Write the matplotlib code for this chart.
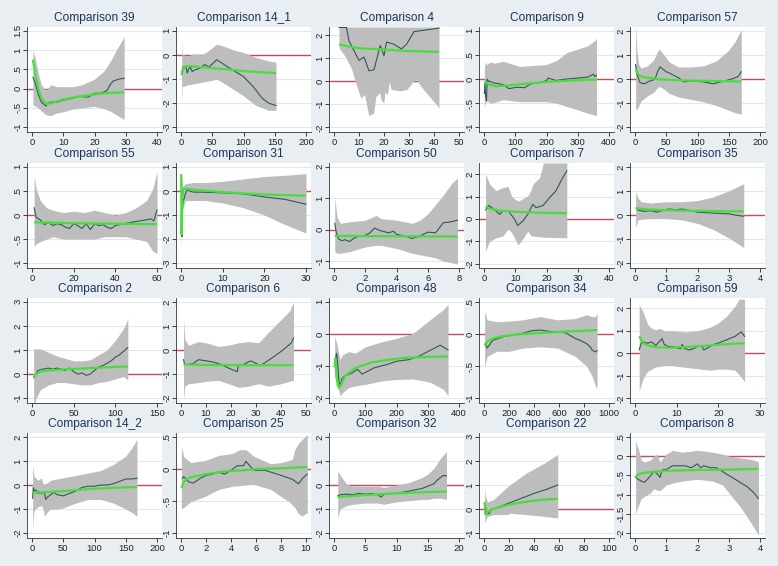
import matplotlib.pyplot as plt
import numpy as np

# ---------------- data ----------------
titles = ["Comparison 39", "Comparison 14_1", "Comparison 4", "Comparison 9", "Comparison 57",
          "Comparison 55", "Comparison 31", "Comparison 50", "Comparison 7", "Comparison 35",
          "Comparison 2", "Comparison 6", "Comparison 48", "Comparison 34", "Comparison 59",
          "Comparison 14_2", "Comparison 25", "Comparison 32", "Comparison 22", "Comparison 8"]

# Comparison 39
c39_x = [0.3, 1, 2, 3, 4.5, 5, 6, 8, 10, 13, 15, 18, 20, 22, 24, 25, 26, 28, 29.5]
c39_y = [0.3, 0.15, -0.15, -0.35, -0.45, -0.38, -0.35, -0.35, -0.3, -0.25, -0.2, -0.22, -0.12, -0.12, -0.05, 0.1, 0.2, 0.25, 0.27]
c39_bx = [0.3, 1, 2, 3, 4.5, 6, 8, 10, 13, 16, 20, 23, 25, 27, 29.5]
c39_hi = [1.0, 0.8, 0.4, 0.1, -0.05, 0.1, 0.05, 0.05, 0.05, 0.1, 0.25, 0.45, 0.7, 1.0, 1.35]
c39_lo = [-0.42, -0.45, -0.5, -0.58, -0.68, -0.7, -0.63, -0.6, -0.53, -0.5, -0.46, -0.52, -0.58, -0.68, -0.8]
c39_sx = [0.3, 1, 2, 3, 4.5, 6, 8, 10, 14, 18, 23, 29.5]
c39_sy = [0.75, 0.4, 0.0, -0.25, -0.4, -0.38, -0.33, -0.28, -0.22, -0.17, -0.12, -0.09]

# Comparison 14_1
c14a_x = [1, 3, 5, 8, 10, 13, 15, 18, 20, 25, 30, 38, 45, 57, 75, 100, 115, 130, 140, 152]
c14a_y = [-0.8, -0.5, -0.55, -0.5, -0.75, -0.55, -0.5, -0.7, -0.65, -0.6, -0.55, -0.4, -0.5, -0.2, -0.5, -0.9, -1.3, -1.8, -2.0, -2.1]
c14a_bx = [1, 2, 5, 10, 20, 30, 40, 50, 57, 70, 85, 100, 120, 140, 152]
c14a_hi = [0.55, 0.0, 0.0, -0.05, 0.05, 0.0, 0.1, 0.3, 0.45, 0.35, 0.2, 0.1, -0.1, -0.25, -0.3]
c14a_lo = [-2.0, -1.3, -1.3, -1.25, -1.2, -1.15, -1.1, -1.05, -1.0, -1.2, -1.45, -1.7, -2.1, -2.3, -2.3]
c14a_sx = [1, 3, 5, 10, 15, 30, 50, 75, 100, 130, 152]
c14a_sy = [-0.85, -0.6, -0.5, -0.47, -0.47, -0.5, -0.55, -0.6, -0.67, -0.72, -0.75]

# Comparison 4
c4_x = [2, 5, 6, 10, 12, 14, 16, 18.5, 20, 21, 24, 27, 29, 32, 42]
c4_y = [2.33, 2.33, 1.75, 0.9, 1.05, 0.45, 0.5, 1.55, 1.1, 1.7, 1.6, 1.4, 1.6, 2.15, 2.3]
c4_bx = [2, 4.3, 7, 8.3, 10.7, 12.2, 13.9, 15.8, 16.8, 18.3, 18.8, 19.9, 20.4, 21.4, 22.1, 22.8, 26.7, 29.3, 31.7, 32.9, 34.6, 42]
c4_hi = [2.35, 2.35, 2.35, 2.35, 2.35, 2.35, 2.35, 2.35, 2.35, 2.35, 2.35, 2.35, 2.35, 2.35, 2.35, 2.35, 2.35, 2.35, 2.35, 2.35, 2.35, 2.35]
c4_lo = [1.45, 1.1, 0.55, 0.05, -0.73, -0.58, -1.48, -1.4, -0.65, -0.5, -0.8, -0.95, -0.47, -0.58, 0.0, -0.35, -0.42, -0.35, 0.0, 0.1, -0.2, -1.15]
c4_sx = [2, 6, 10, 20, 30, 42]
c4_sy = [1.6, 1.5, 1.43, 1.37, 1.31, 1.27]

# Comparison 9
c9_x = [1, 3, 5, 8, 10, 15, 20, 30, 50, 61, 80, 105, 130, 150, 175, 200, 205, 230, 265, 300, 332, 350, 355, 360]
c9_y = [-0.3, -0.1, -0.35, -0.45, 0.0, -0.05, -0.05, -0.08, -0.1, -0.12, -0.2, -0.17, -0.18, -0.1, -0.08, -0.03, 0.02, -0.03, 0.0, 0.02, 0.04, 0.1, 0.05, 0.08]
c9_bx = [1, 2, 4, 10, 20, 35, 61, 115, 198, 231, 265, 300, 332, 355, 360]
c9_hi = [0.2, 0.25, 0.35, 0.3, 0.35, 0.33, 0.37, 0.26, 0.3, 0.38, 0.55, 0.62, 0.69, 0.8, 0.85]
c9_lo = [-0.6, -0.55, -0.5, -0.45, -0.5, -0.48, -0.43, -0.47, -0.47, -0.5, -0.57, -0.64, -0.71, -0.75, -0.76]
c9_sx = [1, 5, 20, 40, 80, 130, 200, 280, 360]
c9_sy = [-0.1, -0.06, -0.12, -0.15, -0.13, -0.1, -0.06, -0.03, -0.01]

# Comparison 57
c57_x = [1, 3, 8, 15, 22, 28, 32, 37, 40, 45, 50, 55, 62, 70, 78, 90, 110, 125, 140, 155, 165, 170]
c57_y = [0.6, 0.2, -0.15, -0.2, -0.1, -0.05, 0.0, 0.35, 0.5, 0.4, 0.3, 0.25, 0.15, 0.05, -0.12, -0.07, -0.12, -0.2, -0.1, 0.0, 0.1, 0.3]
c57_bx = [1, 3, 6, 10, 20, 30, 38, 45, 55, 70, 90, 110, 130, 150, 160, 170]
c57_hi = [2.3, 1.2, 0.6, 0.45, 0.55, 0.8, 1.25, 1.05, 0.7, 0.5, 0.5, 0.55, 0.75, 1.2, 1.55, 2.05]
c57_lo = [-1.2, -1.3, -1.1, -0.9, -0.7, -0.55, -0.3, -0.4, -0.6, -0.75, -0.85, -0.95, -1.1, -1.3, -1.4, -1.45]
c57_sx = [1, 5, 10, 20, 35, 50, 80, 120, 170]
c57_sy = [0.4, 0.2, 0.1, 0.05, 0.0, -0.03, -0.06, -0.08, -0.1]

# Comparison 55
c55_x = [1, 2, 4, 6, 8, 10, 12, 14, 16, 18, 20, 22, 24, 26, 28, 30, 32, 34, 36, 38, 40, 44, 48, 52, 55, 57, 58.5, 60]
c55_y = [0.15, -0.05, -0.1, -0.2, -0.15, -0.22, -0.18, -0.2, -0.25, -0.28, -0.18, -0.22, -0.28, -0.18, -0.3, -0.18, -0.22, -0.2, -0.25, -0.28, -0.22, -0.18, -0.15, -0.12, -0.1, -0.08, -0.12, 0.1]
c55_bx = [1, 2, 4, 7, 10, 15, 20, 25, 30, 35, 40, 45, 50, 55, 58, 60]
c55_hi = [0.8, 0.55, 0.3, 0.15, 0.1, 0.05, 0.08, 0.05, 0.1, 0.05, 0.0, 0.05, 0.15, 0.3, 0.55, 0.9]
c55_lo = [-0.65, -0.6, -0.55, -0.5, -0.45, -0.5, -0.5, -0.5, -0.5, -0.45, -0.45, -0.45, -0.5, -0.55, -0.75, -0.8]
c55_sx = [1, 20, 40, 60]
c55_sy = [-0.15, -0.17, -0.18, -0.19]

# Comparison 31
c31_x = [0.1, 0.2, 0.3, 0.5, 0.8, 1, 1.5, 2, 3, 5, 10, 15, 20, 25, 30]
c31_y = [-0.3, -1.9, -0.8, -0.4, -0.3, -0.15, 0.05, 0.0, -0.05, -0.05, -0.08, -0.12, -0.25, -0.35, -0.55]
c31_bx = [0.1, 0.4, 1, 3, 6, 10, 15, 20, 25, 30]
c31_hi = [0.7, 0.2, 0.3, 0.35, 0.35, 0.4, 0.5, 0.6, 0.65, 0.72]
c31_lo = [-2.35, -0.8, -0.4, -0.4, -0.4, -0.5, -0.7, -1.0, -1.4, -1.75]
c31_sx = [0.05, 0.15, 0.3, 0.5, 1, 3, 10, 20, 30]
c31_sy = [0.7, -1.8, -0.3, 0.05, 0.1, 0.05, -0.05, -0.15, -0.2]

# Comparison 50
c50_x = [0.05, 0.15, 0.3, 0.5, 0.7, 1, 1.2, 1.5, 1.8, 2, 2.3, 2.6, 2.8, 3.1, 3.5, 3.8, 4, 4.5, 5, 5.5, 6, 6.5, 7, 7.5, 7.9]
c50_y = [0.2, -0.1, -0.3, -0.35, -0.32, -0.38, -0.3, -0.22, -0.2, -0.18, -0.1, 0.05, 0.0, -0.05, -0.1, -0.05, -0.15, -0.2, -0.28, -0.2, -0.08, -0.1, 0.22, 0.25, 0.3]
c50_bx = [0.05, 0.2, 0.4, 1, 2, 2.7, 3, 4, 5, 5.5, 6, 6.5, 7, 7.5, 7.9]
c50_hi = [1.0, 0.4, 0.2, 0.25, 0.3, 0.45, 0.35, 0.3, 0.2, 0.3, 0.5, 0.8, 1.1, 1.45, 1.65]
c50_lo = [-0.7, -0.75, -0.75, -0.7, -0.55, -0.5, -0.5, -0.6, -0.75, -0.8, -0.85, -0.9, -1.0, -1.05, -1.1]
c50_sx = [0.05, 4, 7.9]
c50_sy = [-0.2, -0.21, -0.22]

# Comparison 7
c7_x = [0.5, 1.5, 3, 5, 6, 7.7, 9.7, 10.8, 12.4, 14, 15.6, 16.7, 18.9, 21, 23, 25, 26.5]
c7_y = [0.4, 0.6, 0.45, 0.2, 0.35, 0.36, 0.0, -0.3, -0.1, 0.2, 0.65, 0.5, 0.6, 0.95, 1.25, 1.8, 2.15]
c7_bx = [0.5, 1.8, 3.9, 6, 7.7, 8.8, 9.7, 10.8, 11, 12.4, 14, 15.1, 15.6, 17.8, 19, 26.5]
c7_hi = [2.0, 1.55, 1.26, 1.4, 1.45, 1.03, 0.9, 0.8, 0.8, 0.9, 1.03, 1.3, 1.55, 1.85, 2.5, 2.5]
c7_lo = [-1.45, -1.0, -0.85, -0.77, -0.46, -0.6, -0.85, -1.15, -1.15, -0.9, -0.55, -0.77, -0.77, -0.8, -0.82, -0.85]
c7_sx = [0.5, 2, 5, 10, 15, 20, 26.5]
c7_sy = [0.55, 0.45, 0.37, 0.32, 0.29, 0.27, 0.25]

# Comparison 35
c35_x = [0.05, 0.1, 0.3, 0.5, 0.7, 0.9, 1.1, 1.3, 1.5, 1.7, 2.0, 2.5, 3.0, 3.2, 3.48]
c35_y = [0.3, 0.2, 0.15, 0.18, 0.12, 0.2, 0.25, 0.22, 0.25, 0.2, 0.12, 0.08, 0.05, 0.0, -0.05]
c35_bx = [0.02, 0.1, 0.2, 0.5, 1.0, 1.5, 2.0, 2.5, 3.0, 3.48]
c35_hi = [0.95, 0.7, 0.55, 0.5, 0.55, 0.55, 0.6, 0.75, 1.0, 1.3]
c35_lo = [-0.5, -0.2, -0.18, -0.15, -0.15, -0.2, -0.35, -0.6, -0.95, -1.35]
c35_sx = [0.02, 0.5, 1, 2, 3.48]
c35_sy = [0.28, 0.22, 0.2, 0.17, 0.15]

# Comparison 2
c2_x = [2, 5, 7, 12, 20, 25, 30, 35, 40, 45, 50, 55, 60, 65, 70, 75, 80, 85, 90, 95, 100, 105, 110, 115]
c2_y = [-0.15, 0.0, 0.15, 0.2, 0.25, 0.2, 0.25, 0.2, 0.15, 0.25, 0.1, 0.0, 0.05, -0.05, 0.0, 0.15, 0.3, 0.35, 0.45, 0.55, 0.7, 0.8, 0.95, 1.1]
c2_bx = [2, 5, 10, 20, 30, 40, 50, 60, 70, 80, 90, 100, 110, 115]
c2_hi = [1.05, 1.05, 1.05, 0.9, 0.75, 0.65, 0.55, 0.55, 0.6, 0.8, 1.0, 1.4, 1.9, 2.3]
c2_lo = [-1.35, -1.0, -0.65, -0.45, -0.35, -0.35, -0.4, -0.45, -0.45, -0.35, -0.3, -0.2, -0.1, -0.25]
c2_sx = [2, 5, 10, 20, 40, 60, 80, 115]
c2_sy = [-0.15, 0.0, 0.1, 0.15, 0.2, 0.23, 0.27, 0.32]

# Comparison 6
c6_x = [1, 1.5, 3, 5, 7, 10, 13, 16, 19, 22.5, 23, 25, 27.8, 29, 30.8, 31.7, 34, 36.8, 40.8, 44.2, 45]
c6_y = [-0.4, -0.6, -0.6, -0.55, -0.4, -0.45, -0.5, -0.6, -0.75, -0.9, -0.6, -0.6, -0.45, -0.5, -0.6, -0.65, -0.5, -0.3, 0.0, 0.3, 0.5]
c6_bx = [1, 1.5, 3, 7, 10, 15, 19, 23, 27, 31, 35, 40, 43.5, 45]
c6_hi = [1.3, 0.45, 0.2, 0.35, 0.3, 0.15, 0.2, 0.3, 0.35, 0.3, 0.74, 1.26, 1.63, 2.0]
c6_lo = [-2.07, -1.5, -1.4, -1.35, -1.3, -1.26, -1.4, -1.55, -1.5, -1.4, -1.5, -1.4, -1.3, -1.26]
c6_sx = [1, 10, 25, 45]
c6_sy = [-0.6, -0.62, -0.63, -0.63]

# Comparison 48
c48_x = [2, 5, 8, 10, 13, 16, 20, 25, 35, 50, 60, 75, 90, 100, 130, 170, 200, 240, 270, 300, 340, 365]
c48_y = [-1.0, -0.8, -0.6, -0.7, -1.1, -1.5, -1.6, -1.4, -1.3, -1.25, -1.2, -1.1, -1.25, -1.2, -1.05, -0.95, -0.85, -0.8, -0.7, -0.55, -0.35, -0.5]
c48_bx = [2, 9, 19.5, 27, 47, 68, 100, 155, 198, 253, 307, 350, 365]
c48_hi = [-0.08, -0.3, -0.8, -0.65, -0.55, -0.6, -0.4, -0.24, -0.14, 0.02, 0.44, 0.76, 0.92]
c48_lo = [-1.35, -1.5, -1.93, -1.83, -1.67, -1.62, -1.57, -1.46, -1.42, -1.4, -1.5, -1.72, -1.93]
c48_sx = [2, 4, 8, 12, 16, 22, 36, 68, 123, 177, 231, 286, 365]
c48_sy = [-1.04, -0.77, -1.3, -1.6, -1.68, -1.6, -1.3, -1.06, -0.88, -0.8, -0.74, -0.72, -0.7]

# Comparison 34
c34_x = [10, 25, 70, 160, 310, 380, 450, 520, 590, 650, 730, 770, 820, 850, 865, 890, 905]
c34_y = [-0.15, -0.22, -0.1, -0.04, 0.01, 0.05, 0.06, 0.04, 0.03, 0.02, -0.07, -0.1, -0.15, -0.2, -0.25, -0.28, -0.26]
c34_bx = [5, 25, 100, 200, 310, 450, 590, 730, 820, 865, 890, 900, 905]
c34_hi = [0.35, 0.22, 0.19, 0.2, 0.22, 0.27, 0.22, 0.24, 0.3, 0.27, 0.27, 0.3, 0.33]
c34_lo = [-0.52, -0.35, -0.27, -0.27, -0.22, -0.2, -0.22, -0.35, -0.5, -0.66, -0.8, -0.85, -0.8]
c34_sx = [5, 25, 70, 160, 310, 590, 905]
c34_sy = [-0.18, -0.12, -0.07, -0.03, 0.0, 0.03, 0.06]

# Comparison 59
c59_x = [1, 1.5, 2, 3, 4, 5, 6, 6.5, 7, 8, 9, 10, 11, 11.3, 12, 13, 14, 15, 16, 16.5, 17, 18, 19, 20, 22, 24, 25.5, 26.3]
c59_y = [0.15, 0.45, 0.5, 0.45, 0.5, 0.35, 0.55, 0.65, 0.4, 0.3, 0.3, 0.25, 0.2, 0.4, 0.2, 0.15, 0.2, 0.3, 0.35, 0.15, 0.2, 0.3, 0.4, 0.45, 0.6, 0.75, 0.95, 0.75]
c59_bx = [1, 2, 3, 4, 5, 6, 7, 9, 12, 15, 18, 20, 22, 24, 25, 26.3]
c59_hi = [2.15, 1.8, 1.3, 1.1, 1.05, 1.1, 1.0, 1.0, 0.95, 1.0, 1.15, 1.35, 1.65, 2.1, 2.4, 2.4]
c59_lo = [-1.65, -1.1, -0.8, -0.7, -0.6, -0.58, -0.55, -0.55, -0.62, -0.68, -0.75, -0.7, -0.7, -0.75, -0.95, -1.25]
c59_sx = [1, 2, 3, 5, 8, 12, 16, 20, 26.3]
c59_sy = [0.75, 0.45, 0.35, 0.27, 0.25, 0.28, 0.32, 0.38, 0.45]

# Comparison 14_2
c14b_x = [1, 2, 4, 6, 8, 10, 12, 14, 16, 18, 20, 22, 25, 30, 35, 40, 50, 60, 70, 80, 90, 100, 110, 120, 130, 140, 150, 160, 168]
c14b_y = [-0.55, -0.1, -0.3, -0.2, -0.35, -0.25, -0.35, -0.3, -0.35, -0.3, -0.35, -0.6, -0.5, -0.4, -0.3, -0.4, -0.45, -0.35, -0.25, -0.1, -0.05, -0.05, 0.0, 0.0, 0.05, 0.15, 0.25, 0.25, 0.28]
c14b_bx = [1, 3, 5, 10, 15, 18, 20, 25, 30, 40, 50, 70, 90, 110, 130, 150, 160, 168]
c14b_hi = [0.8, 0.4, 0.3, 0.2, 0.3, 0.0, 0.05, 0.1, 0.2, 0.25, 0.3, 0.4, 0.5, 0.6, 0.85, 1.2, 1.55, 1.9]
c14b_lo = [-1.8, -1.1, -1.0, -0.9, -0.85, -1.0, -1.3, -1.1, -1.0, -1.0, -0.95, -0.75, -0.6, -0.6, -0.75, -1.0, -1.15, -1.3]
c14b_sx = [1, 20, 50, 100, 168]
c14b_sy = [-0.3, -0.3, -0.25, -0.15, -0.08]

# Comparison 25
c25_x = [0.1, 0.2, 0.4, 0.6, 1, 1.5, 2, 2.5, 3, 3.5, 4, 4.5, 5, 5.2, 5.5, 5.85, 6.7, 7.2, 8.0, 8.9, 9.4, 9.7, 10.1]
c25_y = [-0.15, -0.12, -0.15, -0.2, -0.22, -0.15, -0.1, -0.08, -0.05, -0.08, -0.02, 0.05, 0.05, 0.12, 0.05, -0.02, -0.02, -0.05, -0.1, -0.16, -0.23, -0.15, -0.08]
c25_bx = [0.03, 0.22, 0.78, 1.9, 3.0, 4.1, 4.7, 5.2, 5.8, 7.2, 8.0, 8.6, 8.9, 9.1, 9.4, 9.7, 10.1]
c25_hi = [0.35, 0.19, 0.1, 0.13, 0.21, 0.24, 0.3, 0.3, 0.2, 0.08, 0.1, 0.13, 0.15, 0.3, 0.4, 0.46, 0.54]
c25_lo = [-0.62, -0.6, -0.51, -0.43, -0.32, -0.27, -0.26, -0.25, -0.24, -0.32, -0.43, -0.5, -0.56, -0.6, -0.7, -0.73, -0.68]
c25_sx = [0.05, 0.2, 0.5, 1, 2, 3, 4, 5, 6, 8, 10.1]
c25_sy = [-0.3, -0.2, -0.15, -0.12, -0.08, -0.05, -0.03, -0.02, 0.0, 0.01, 0.03]

# Comparison 32
c32_x = [0.6, 1, 2, 3, 4, 5, 6, 7, 7.5, 8, 9, 10, 11, 12, 13, 14, 15, 16, 16.5, 17, 17.5, 18]
c32_y = [-0.45, -0.4, -0.38, -0.4, -0.35, -0.38, -0.35, -0.4, -0.5, -0.4, -0.35, -0.35, -0.3, -0.25, -0.2, -0.15, -0.05, 0.05, 0.2, 0.3, 0.4, 0.38]
c32_bx = [0.6, 1, 2, 3, 5, 7, 8, 10, 12, 14, 15, 16, 17, 18]
c32_hi = [0.6, 0.4, 0.05, -0.05, -0.05, -0.05, -0.1, 0.0, 0.1, 0.3, 0.45, 0.7, 1.1, 1.4]
c32_lo = [-1.35, -1.0, -0.85, -0.8, -0.75, -0.75, -0.8, -0.7, -0.65, -0.6, -0.6, -0.55, -0.55, -0.6]
c32_sx = [0.6, 3, 6, 10, 14, 18]
c32_sy = [-0.5, -0.45, -0.4, -0.35, -0.3, -0.27]

# Comparison 22
c22_x = [1, 2, 3, 4, 6, 10, 15, 20, 30, 40, 50, 59]
c22_y = [0.2, -0.2, -0.1, -0.2, 0.0, 0.05, 0.15, 0.25, 0.45, 0.65, 0.82, 1.0]
c22_bx = [0.5, 1, 2.7, 7.5, 19, 20.5, 34, 48, 59]
c22_hi = [0.9, 0.6, 0.3, 0.39, 0.94, 1.0, 1.5, 1.9, 2.27]
c22_lo = [-0.58, -0.5, -0.3, -0.23, -0.23, -0.17, -0.23, -0.3, -0.37]
c22_sx = [0.5, 1, 2, 4, 6, 10, 15, 20, 30, 40, 50, 59]
c22_sy = [0.3, -0.2, -0.15, -0.1, -0.02, 0.05, 0.12, 0.18, 0.28, 0.35, 0.4, 0.43]

# Comparison 8
c8_x = [0.02, 0.1, 0.2, 0.3, 0.4, 0.5, 0.6, 0.7, 0.8, 0.85, 0.9, 1.0, 1.1, 1.2, 1.4, 1.6, 1.8, 2.0, 2.1, 2.2, 2.4, 2.6, 2.8, 3.0, 3.2, 3.4, 3.6, 3.8, 3.85, 3.9, 3.95]
c8_y = [-0.55, -0.6, -0.65, -0.68, -0.6, -0.5, -0.4, -0.45, -0.55, -0.4, -0.35, -0.35, -0.3, -0.25, -0.25, -0.25, -0.3, -0.2, -0.3, -0.25, -0.3, -0.3, -0.4, -0.5, -0.6, -0.7, -0.8, -0.95, -1.0, -1.05, -1.1]
c8_bx = [0.02, 0.1, 0.2, 0.3, 0.5, 0.6, 0.7, 0.8, 1.0, 1.2, 1.5, 2.0, 2.5, 2.8, 3.0, 3.2, 3.4, 3.6, 3.8, 3.95]
c8_hi = [0.4, 0.2, -0.1, -0.15, -0.1, 0.0, 0.05, -0.15, 0.05, 0.15, 0.1, 0.15, 0.1, 0.05, 0.0, -0.02, -0.05, -0.07, -0.1, -0.15]
c8_lo = [-1.5, -1.3, -1.1, -1.05, -0.95, -0.85, -0.88, -0.9, -0.75, -0.7, -0.65, -0.6, -0.65, -0.75, -0.95, -1.15, -1.35, -1.6, -1.85, -2.05]
c8_sx = [0.02, 0.1, 0.2, 0.4, 0.7, 1.0, 2.0, 3.0, 3.95]
c8_sy = [-0.55, -0.48, -0.45, -0.42, -0.4, -0.38, -0.36, -0.35, -0.33]

# axis ticks per panel
x_ticks = [[0, 10, 20, 30, 40], [0, 50, 100, 150, 200], [0, 10, 20, 30, 40, 50], [0, 100, 200, 300, 400],
           [0, 50, 100, 150, 200], [0, 20, 40, 60], [0, 10, 20, 30], [0, 2, 4, 6, 8],
           [0, 10, 20, 30, 40], [0, 1, 2, 3, 4], [0, 50, 100, 150], [0, 10, 20, 30, 40, 50],
           [0, 100, 200, 300, 400], [0, 200, 400, 600, 800, 1000], [0, 10, 20, 30], [0, 50, 100, 150, 200],
           [0, 2, 4, 6, 8, 10], [0, 5, 10, 15, 20], [0, 20, 40, 60, 80, 100], [0, 1, 2, 3, 4]]
y_ticks = [[-1, -0.5, 0, 0.5, 1, 1.5], [-3, -2, -1, 0, 1], [-2, -1, 0, 1, 2], [-1, -0.5, 0, 0.5, 1],
           [-2, -1, 0, 1, 2], [-1, -0.5, 0, 0.5, 1], [-3, -2, -1, 0, 1], [-1, 0, 1, 2],
           [-2, -1, 0, 1, 2], [-2, -1, 0, 1, 2], [-1, 0, 1, 2, 3], [-2, -1, 0, 1, 2],
           [-2, -1, 0, 1], [-1, -0.5, 0, 0.5], [-2, -1, 0, 1, 2], [-2, -1, 0, 1, 2],
           [-1, -0.5, 0, 0.5], [-2, -1, 0, 1, 2], [-1, 0, 1, 2, 3], [-2, -1.5, -1, -0.5, 0, 0.5]]
# panels whose data push the plot region past the top label
y_top = {2: 2.35, 8: 2.5, 14: 2.45}
y_bottom = {7: -1.22}

names = ["c39", "c14a", "c4", "c9", "c57", "c55", "c31", "c50", "c7", "c35",
         "c2", "c6", "c48", "c34", "c59", "c14b", "c25", "c32", "c22", "c8"]
panels = [[globals()[n + s] for s in ("_x", "_y", "_bx", "_lo", "_hi", "_sx", "_sy")] for n in names]

# ---------------- style ----------------
BG = "#e8eef1"
NAVY = "#1c3358"
GRAY = "#bdbdbd"
DARK = "#2c5b55"
LIME = "#48de3a"
RED = "#c24a64"
GRID = "#e1e8ec"
plt.rcParams['font.family'] = ['Liberation Sans', 'DejaVu Sans']


def stata_label(v):
    if float(v).is_integer():
        return str(int(v))
    s = f"{abs(v):g}".lstrip("0")
    return ("-" if v < 0 else "") + s


W, H = 778, 566
lefts = [27, 176, 329, 479, 630]
tops = [27, 163, 298, 433]
pw, ph = 135, 105

fig = plt.figure(figsize=(W / 100, H / 100), dpi=100, facecolor=BG)

for i, (lx, ly, bx, lo, hi, sx, sy) in enumerate(panels):
    r, c = divmod(i, 5)
    ax = fig.add_axes([lefts[c] / W, 1 - (tops[r] + ph) / H, pw / W, ph / H])
    ax.set_facecolor("white")

    xt, yt = x_ticks[i], y_ticks[i]
    xr, yr = xt[-1] - xt[0], yt[-1] - yt[0]
    ax.set_xlim(xt[0] - 0.04 * xr, xt[-1] + 0.04 * xr)
    ax.set_ylim(y_bottom.get(i, yt[0] - 0.05 * yr), y_top.get(i, yt[-1] + 0.04 * yr))

    for y in yt:
        ax.axhline(y, color=GRID, lw=0.8, zorder=0.5)
    ax.axhline(0, color=RED, lw=1.0, zorder=1)
    ax.fill_between(bx, lo, hi, color=GRAY, lw=0, zorder=2)
    ax.plot(lx, ly, color=DARK, lw=0.8, zorder=3)
    ax.plot(sx, sy, color=LIME, lw=1.6, zorder=4, solid_capstyle="butt")

    ax.set_xticks(xt)
    ax.set_xticklabels([stata_label(v) for v in xt])
    ax.set_yticks(yt)
    ax.set_yticklabels([stata_label(v) for v in yt], rotation=90, va="center")
    ax.tick_params(length=3, width=0.6, labelsize=6.8, colors="#222222")
    ax.tick_params(axis="x", pad=1.5)
    ax.tick_params(axis="y", pad=0.5)
    for s in ("top", "right"):
        ax.spines[s].set_visible(False)
    for s in ("left", "bottom"):
        ax.spines[s].set_linewidth(0.6)
        ax.spines[s].set_color("#333333")

    ax.set_title(titles[i], fontsize=8.6, color=NAVY, pad=4)

fig.savefig("out.png", dpi=100, facecolor=BG)
